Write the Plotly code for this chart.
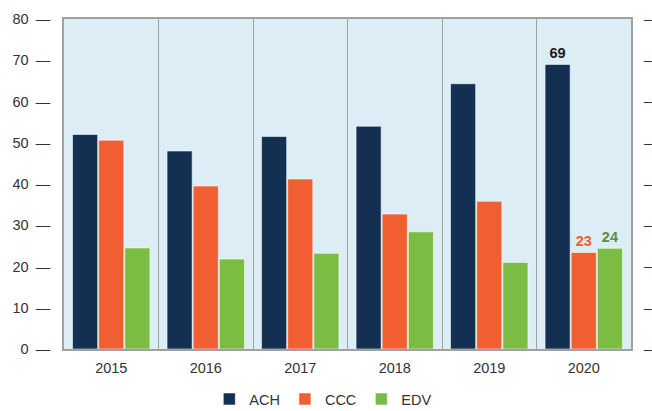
import plotly.graph_objects as go

###############################################################################
#                               Datos                                         #
###############################################################################

years = ["2015", "2016", "2017", "2018", "2019", "2020"]
ach = [52, 48, 51.5, 54, 64.3, 69]
ccc = [50.6, 39.5, 41.2, 32.7, 35.8, 23.4]
edv = [24.5, 21.8, 23.2, 28.4, 21, 24.4]

# Solo se etiqueta el último año
ach_txt = ["", "", "", "", "", "69"]
ccc_txt = ["", "", "", "", "", "23"]
edv_txt = ["", "", "", "", "", "24"]

y_ticks = [0, 10, 20, 30, 40, 50, 60, 70, 80]

###############################################################################
#                               Figura                                        #
###############################################################################

font_fam = "Liberation Sans, Arial, sans-serif"
bar_line = dict(color="rgba(255,255,255,0.55)", width=1)

fig = go.Figure()
fig.add_trace(go.Bar(x=years, y=ach, name="ACH", marker=dict(color="#132f52", line=bar_line),
                     text=ach_txt, textposition="outside", cliponaxis=False,
                     textfont=dict(color="#1a1a1a", size=14.5, family=font_fam, weight="bold")))
fig.add_trace(go.Bar(x=years, y=ccc, name="CCC", marker=dict(color="#f15e32", line=bar_line),
                     text=ccc_txt, textposition="outside", cliponaxis=False,
                     textfont=dict(color="#f15e32", size=14.5, family=font_fam, weight="bold")))
fig.add_trace(go.Bar(x=years, y=edv, name="EDV", marker=dict(color="#7bbd42", line=bar_line),
                     text=edv_txt, textposition="outside", cliponaxis=False,
                     textfont=dict(color="#5c8c3c", size=14.5, family=font_fam, weight="bold")))
# traza invisible para el eje derecho
fig.add_trace(go.Scatter(x=years, y=[None] * len(years), yaxis="y2", showlegend=False,
                         hoverinfo="skip"))

fig.update_layout(
    width=652, height=411,
    margin=dict(l=64, r=21, t=19, b=62),
    paper_bgcolor="white",
    plot_bgcolor="#dcedf5",
    barmode="group",
    bargap=0.17,
    bargroupgap=0.04,
    font=dict(family=font_fam, size=14.5, color="#333333"),
    xaxis=dict(type="category", tickson="boundaries", showgrid=True, gridcolor="#a0a0a0",
               gridwidth=1, ticks="", showline=True, linecolor="#a0a0a0", linewidth=1.5,
               mirror=True, ticklabelstandoff=5, automargin=False),
    yaxis=dict(range=[0, 80], tickvals=y_ticks,
               ticktext=[f"{v}\u2002—" for v in y_ticks],
               showgrid=False, zeroline=False, showline=True, linecolor="#a0a0a0",
               linewidth=1.5, mirror=True, ticks="", ticklabelstandoff=9, automargin=False),
    yaxis2=dict(range=[0, 80], overlaying="y", side="right", tickvals=y_ticks,
                ticktext=["–"] * len(y_ticks), tickfont=dict(size=14),
                showgrid=False, zeroline=False,
                showline=False, ticks="", ticklabelstandoff=12, automargin=False),
    legend=dict(orientation="h", xref="container", yref="container",
                x=0.321, xanchor="left", y=0.068, yanchor="top",
                font=dict(size=14.5), itemwidth=30, tracegroupgap=0),
    showlegend=True,
)

# sin margen del body para que la figura ocupe toda la ventana
fig.write_html("out.html", config={"displayModeBar": False},
               post_script="document.body.style.margin='0';")
